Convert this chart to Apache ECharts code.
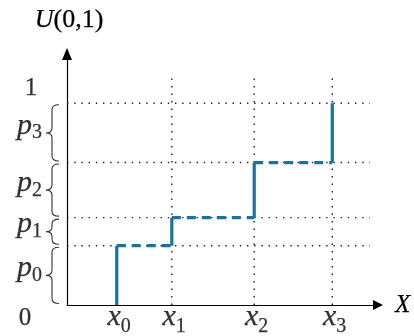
<!DOCTYPE html>
<html><head><meta charset="utf-8">
<script src="https://cdn.jsdelivr.net/npm/echarts@6/dist/echarts.min.js"></script>
<style>html,body{margin:0;padding:0;background:#fff}#c{width:414px;height:336px}</style>
</head><body><div id="c"></div>
<script>
// ---- data ----
const xSubscripts = ['0', '1', '2', '3'];
const xValues = [1.60, 3.37, 6.02, 8.53];
const pSubscripts = ['0', '1', '2', '3'];
const probs = [0.294, 0.139, 0.273, 0.294];
const yTickLabels = ['0', '1'];
const yTickValues = [0, 1];

// cumulative levels
const cum = [];
let acc = 0;
probs.forEach(p => { acc += p; cum.push(+acc.toFixed(4)); });
const lows = cum.map((c, i) => i ? cum[i - 1] : 0);
const mids = cum.map((c, i) => (lows[i] + c) / 2);

// ---- layout / style constants ----
const X_MAX = 10, Y_MAX = 1.244, GRID_X_END = 9.74, GRID_Y_END = 1.14;
const FONT = 'Liberation Serif';
const STEP_COLOR = '#1b72a0', DOT_COLOR = '#1e1e38';
const MID = 0.3375;

function labelSeries(points, names, size, italic, align, dx, dyBase) {
  return {
    type: 'scatter', silent: true, z: 5, symbolSize: 1,
    itemStyle: { color: 'transparent' },
    data: points,
    label: {
      show: true, position: 'inside',
      formatter: p => names[p.dataIndex],
      fontFamily: FONT, fontSize: size, fontStyle: italic ? 'italic' : 'normal', color: '#000',
      textBorderColor: '#000', textBorderWidth: 0.25,
      align: align, verticalAlign: 'middle',
      offset: [dx, dyBase - MID * size]
    }
  };
}

const series = [];
cum.forEach(c => series.push({
  type: 'line', data: [[0, c], [GRID_X_END, c]], symbol: 'none', silent: true, z: 1,
  lineStyle: { color: DOT_COLOR, width: 1.4, type: [1.4, 5.8] }
}));
xValues.slice(1).forEach(x => series.push({
  type: 'line', data: [[x, 0], [x, GRID_Y_END]], symbol: 'none', silent: true, z: 1,
  lineStyle: { color: DOT_COLOR, width: 1.4, type: [1.4, 6.1] }
}));
xValues.forEach((x, i) => series.push({
  type: 'line', data: [[x, lows[i]], [x, cum[i]]], symbol: 'none', silent: true, z: 3,
  lineStyle: { color: STEP_COLOR, width: 3.2, type: 'solid' }
}));
for (let i = 0; i < xValues.length - 1; i++) {
  series.push({
    type: 'line', data: [[xValues[i], cum[i]], [xValues[i + 1], cum[i]]], symbol: 'none', silent: true, z: 3,
    lineStyle: { color: STEP_COLOR, width: 3.2, type: [9, 6] }
  });
}

// braces
series.push({
  type: 'custom', coordinateSystem: 'cartesian2d', silent: true, z: 4,
  data: probs.map((p, i) => [lows[i], cum[i]]),
  renderItem: (params, api) => {
    const lo = api.value(0), hi = api.value(1);
    const pb = api.coord([0, lo]), pt = api.coord([0, hi]);
    const ax = pb[0];
    const y1 = pt[1] + 1.5, y2 = pb[1] - 1.5, ym = (y1 + y2) / 2;
    const xe = ax - 8, xa = ax - 15, xt = ax - 21, r = 5;
    const d = `M${xe} ${y1} Q${xa} ${y1} ${xa} ${y1 + r} L${xa} ${ym - r} Q${xa} ${ym} ${xt} ${ym} ` +
              `Q${xa} ${ym} ${xa} ${ym + r} L${xa} ${y2 - r} Q${xa} ${y2} ${xe} ${y2}`;
    return { type: 'path', shape: { pathData: d }, style: { fill: 'none', stroke: '#333', lineWidth: 1.1 } };
  }
});

// p labels (at the middle of each interval)
const pPoints = mids.map(m => [0, m]);
series.push(labelSeries(pPoints, pSubscripts.map(() => 'p'), 30, true, 'right', -35, 3));
series.push(labelSeries(pPoints, pSubscripts, 20, false, 'left', -35, 7));

// x tick labels
const xPoints = xValues.map(x => [x, 0]);
series.push(labelSeries(xPoints, xSubscripts.map(() => 'x'), 30, true, 'right', 4, 22));
series.push(labelSeries(xPoints, xSubscripts, 20, false, 'left', 4, 28));

// y labels: origin "0" sits on the x-label baseline, "1" above its level
series.push(labelSeries([[0, yTickValues[0]]], [yTickLabels[0]], 25, false, 'center', -42, 22));
series.push(labelSeries([[0, yTickValues[1]]], [yTickLabels[1]], 25, false, 'center', -36, -6));

const chart = echarts.init(document.getElementById('c'), null, { renderer: 'canvas' });
chart.setOption({
  animation: false,
  backgroundColor: '#fff',
  grid: { left: 67, right: 36, top: 54, bottom: 31 },
  xAxis: {
    type: 'value', min: 0, max: X_MAX,
    axisLine: { show: true, onZero: false, symbol: ['none', 'triangle'], symbolSize: [10, 10],
      lineStyle: { color: '#000', width: 1.2 } },
    axisTick: { show: false }, axisLabel: { show: false }, splitLine: { show: false },
    name: 'X', nameLocation: 'end', nameGap: 17,
    nameTextStyle: { fontFamily: FONT, fontStyle: 'italic', fontSize: 25, color: '#000',
      textBorderColor: '#000', textBorderWidth: 0.25, padding: [7, 0, 0, 0] }
  },
  yAxis: {
    type: 'value', min: 0, max: Y_MAX,
    axisLine: { show: true, onZero: false, symbol: ['none', 'triangle'], symbolSize: [10, 12],
      lineStyle: { color: '#000', width: 1.2 } },
    axisTick: { show: false }, axisLabel: { show: false }, splitLine: { show: false },
    name: '{i|U}{n|(0,1)}', nameLocation: 'end', nameGap: 21,
    nameTextStyle: { fontFamily: FONT, fontSize: 26, color: '#000', padding: [0, 0, 0, 4],
      rich: {
        i: { fontFamily: FONT, fontSize: 26, fontStyle: 'italic', color: '#000', textBorderColor: '#000', textBorderWidth: 0.25 },
        n: { fontFamily: FONT, fontSize: 26, color: '#000', textBorderColor: '#000', textBorderWidth: 0.25 }
      } }
  },
  series: series
});
</script>
</body></html>
